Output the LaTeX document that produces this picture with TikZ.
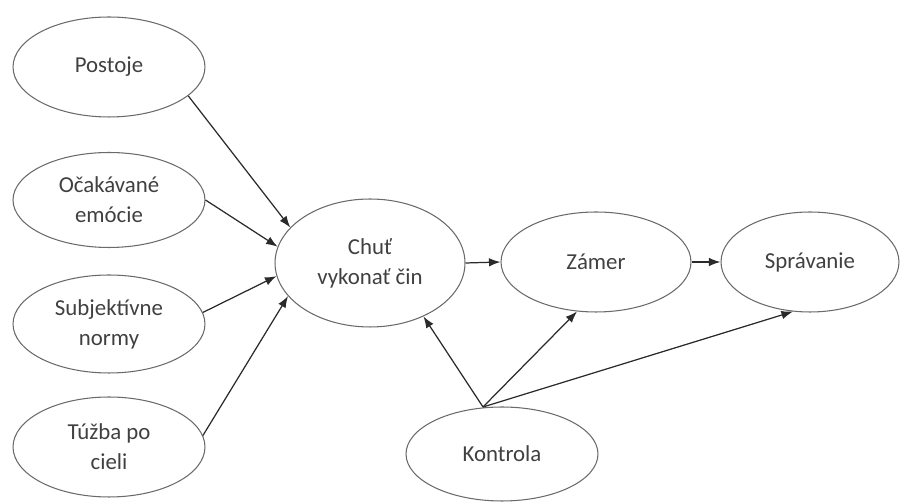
\documentclass[tikz,border=0pt]{standalone}
\usepackage{fontspec}
\setmainfont{Carlito}
\usetikzlibrary{shapes.geometric,arrows.meta}
\definecolor{txt}{HTML}{404040}
\definecolor{edge}{HTML}{6A6A6A}
\definecolor{arr}{HTML}{2A2A2A}
\tikzset{
  oval/.style={ellipse, draw=edge, line width=0.6pt, inner sep=0pt, align=center,
    text=txt, font=\fontsize{13}{17}\selectfont},
  link/.style={draw=arr, line width=0.7pt, -{Latex[length=2.3mm,width=1.7mm]}}
}
\begin{document}
\begin{tikzpicture}[x=0.02cm,y=-0.02cm]
\useasboundingbox (0,0) rectangle (900,502);
\node[oval, minimum width=3.84cm, minimum height=2.0cm] (post) at (109,67) {Postoje};
\node[oval, minimum width=3.84cm, minimum height=1.9cm] (ocak) at (109,200) {Očakávané\\emócie};
\node[oval, minimum width=3.84cm, minimum height=1.96cm] (subj) at (109,324) {Subjektívne\\normy};
\node[oval, minimum width=3.84cm, minimum height=2.0cm] (tuzba) at (109,447) {Túžba po\\cieli};
\node[oval, minimum width=3.8cm, minimum height=2.56cm] (chut) at (370,263) {Chuť\\vykonať čin};
\node[oval, minimum width=3.8cm, minimum height=2.0cm] (zamer) at (596,262) {Zámer};
\node[oval, minimum width=3.56cm, minimum height=2.0cm] (sprav) at (810,262) {Správanie};
\node[oval, minimum width=3.84cm, minimum height=1.88cm] (kontr) at (502,454) {Kontrola};
\coordinate (k) at (483,407);
\draw[link] (post.-20) -- (chut.156);
\draw[link] (ocak.0) -- (chut.170);
\draw[link] (subj.7) -- (chut.-172);
\draw[link] (tuzba.7) -- (chut.-158);
\draw[link] (chut.east) -- (zamer.west);
\draw[link] (zamer.east) -- (sprav.west);
\draw[link] (k) -- (chut.-45);
\draw[link] (k) -- (zamer.-111);
\draw[link] (k) -- (sprav.-109);
\end{tikzpicture}
\end{document}
